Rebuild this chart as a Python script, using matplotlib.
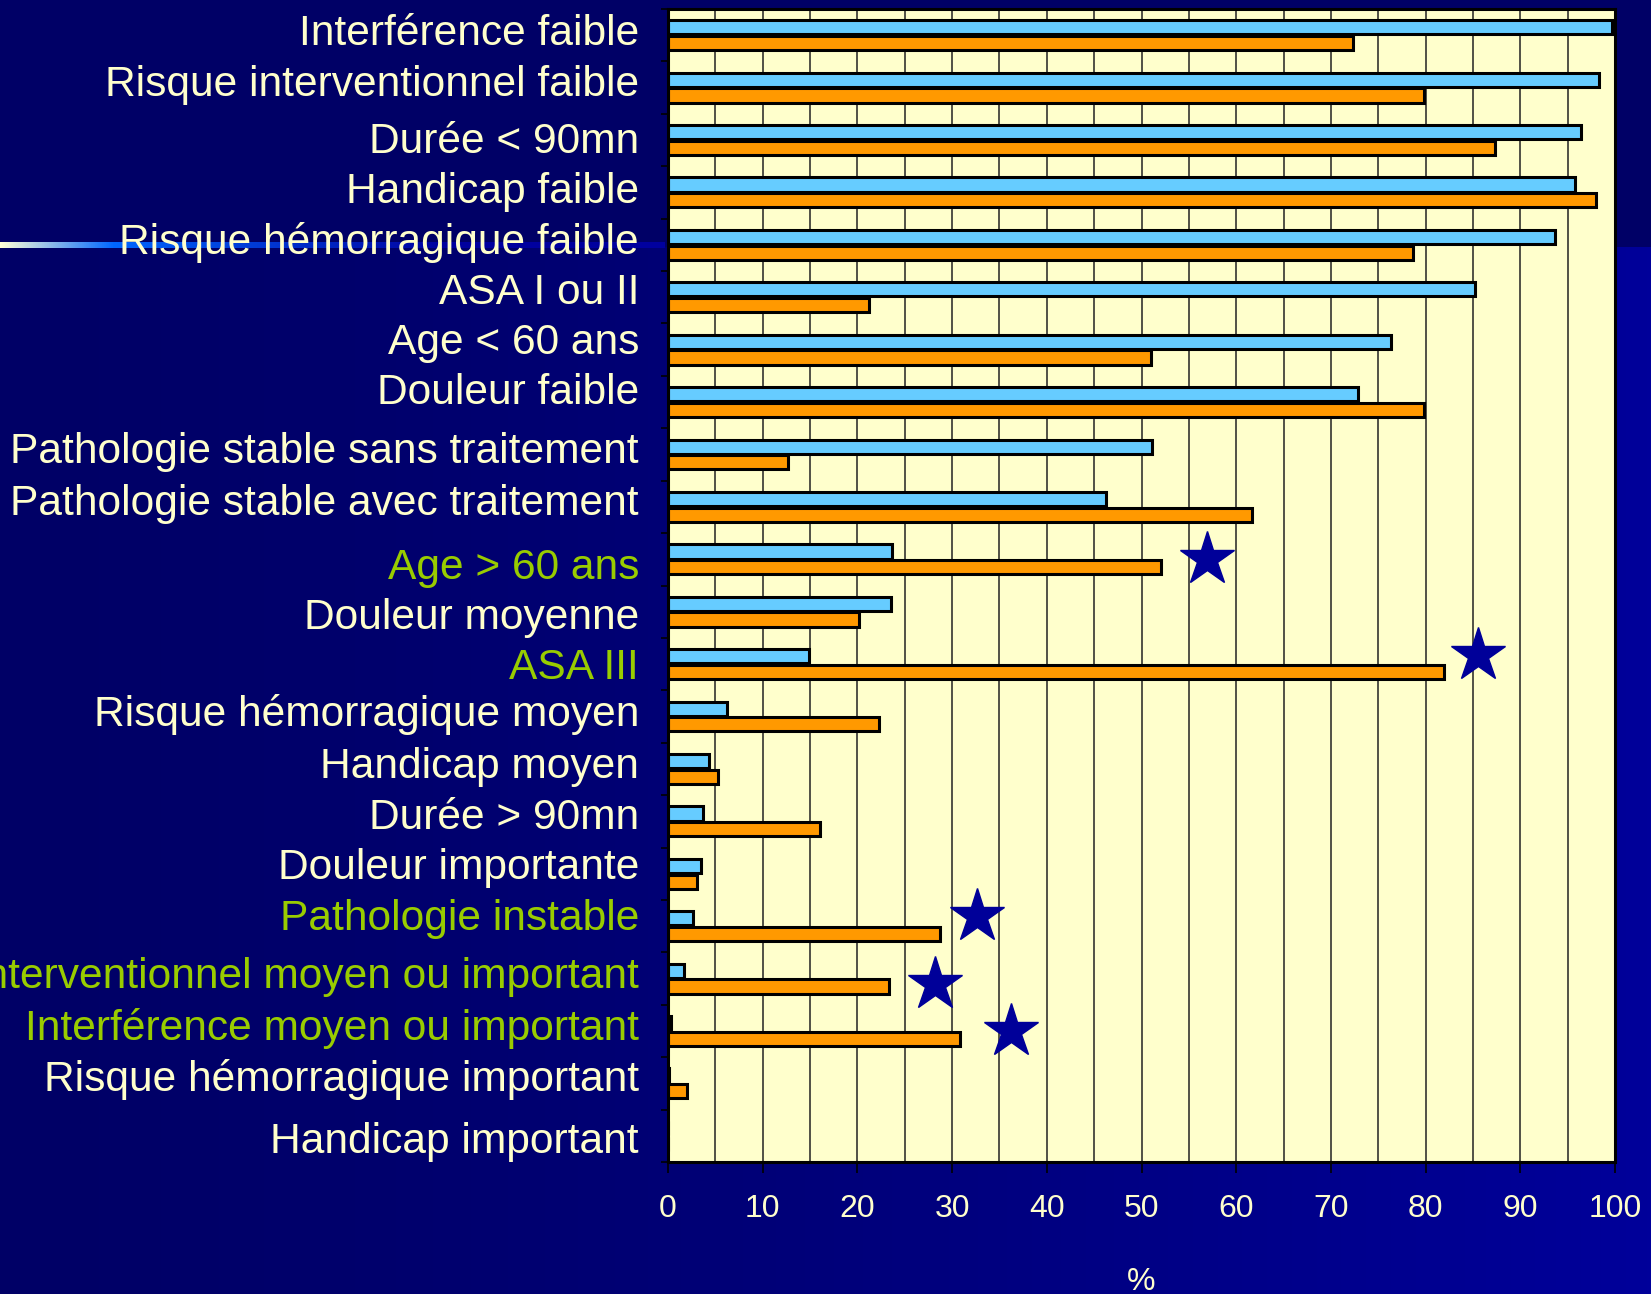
import numpy as np
import matplotlib.pyplot as plt
import matplotlib.ticker as mticker
from matplotlib.transforms import ScaledTranslation

categories = [
    "Interférence faible", "Risque interventionnel faible", "Durée < 90mn",
    "Handicap faible", "Risque hémorragique faible", "ASA I ou II",
    "Age < 60 ans", "Douleur faible", "Pathologie stable sans traitement",
    "Pathologie stable avec traitement", "Age > 60 ans", "Douleur moyenne",
    "ASA III", "Risque hémorragique moyen", "Handicap moyen", "Durée > 90mn",
    "Douleur importante", "Pathologie instable",
    "Risque interventionnel moyen ou important",
    "Interférence moyen ou important", "Risque hémorragique important",
    "Handicap important",
]
blue_vals = [99.7, 98.3, 96.4, 95.8, 93.7, 85.2, 76.3, 72.9, 51.1, 46.2, 23.7,
             23.5, 14.9, 6.2, 4.3, 3.7, 3.5, 2.6, 1.7, 0.3, 0.1, 0.0]
orange_vals = [72.3, 79.8, 87.3, 98.0, 78.7, 21.2, 51.0, 79.8, 12.7, 61.7, 52.1,
               20.2, 81.9, 22.3, 5.3, 16.0, 3.1, 28.7, 23.3, 30.8, 2.0, 0.0]
# highlighted (significant) rows
highlight = ["Age > 60 ans", "ASA III", "Pathologie instable",
             "Risque interventionnel moyen ou important",
             "Interférence moyen ou important"]
star_x = [56.9, 85.5, 32.6, 28.2, 36.2]
star_dy = [0.0, -0.17, -0.19, 0.1, 0.0]
xticks = list(range(0, 101, 10))
# small vertical nudges (px) of the row labels, as placed on the slide
label_dy = [6, 7, 3, 5, 7, 9, 11, 14, 7, 7, -4, -2, 1, 7, 6, 8, 10, 12, 6, 7, 8, -2]

W, H = 1651, 1294
fig = plt.figure(figsize=(W / 100, H / 100), dpi=100)
fig.patch.set_facecolor('#000066')
plt.rcParams['font.family'] = ['Liberation Sans', 'DejaVu Sans']

# slide background: blue band in lower part + highlight line
bg = fig.add_axes([0, 0, 1, 1], zorder=-10)
bg.set_xlim(0, W)
bg.set_ylim(H, 0)
bg.axis('off')
t = np.linspace(0, 1, 400) ** 1.4
grad = np.zeros((2, 400, 3))
grad[:, :, 2] = (0x66 + (0x9A - 0x66) * t) / 255
bg.imshow(grad, extent=[0, W, H, 247], aspect='auto', zorder=0)
line_x = np.linspace(0, 1, 300)
line = np.zeros((1, 300, 3))
c0 = np.array([1.0, 1.0, 0.85])
c1 = np.array([0.0, 0.4, 1.0])
c2 = np.array([0.0, 0.0, 0.62])
for i, s in enumerate(line_x):
    if s < 0.17:
        line[0, i] = c0 + (c1 - c0) * (s / 0.17)
    else:
        line[0, i] = c1 + (c2 - c1) * min(1, (s - 0.17) / 0.5)
bg.imshow(line, extent=[0, 665, 248, 242], aspect='auto', zorder=1)

ax = fig.add_axes([668 / W, 1 - 1162 / H, 947 / W, 1153 / H])
ax.set_facecolor('#FFFFCC')

y = np.arange(len(categories))
h = 0.27
off = 0.15
ax.barh(y - off, blue_vals, height=h, color='#66CCFF', edgecolor='black',
        linewidth=2.2, zorder=3)
ax.barh(y + off, orange_vals, height=h, color='#FF9900', edgecolor='black',
        linewidth=2.2, zorder=3)

sy = [categories.index(c) + d for c, d in zip(highlight, star_dy)]
ax.plot(star_x, sy, linestyle='none', marker='*', markersize=41,
        color='#000099', markeredgecolor='#000099', zorder=4)

ax.set_xlim(0, 100)
ax.set_ylim(len(categories) - 0.5, -0.5)
ax.set_xticks(xticks)
ax.xaxis.set_minor_locator(mticker.MultipleLocator(5))
ax.grid(True, axis='x', which='both', color='#222222', linewidth=1.1, zorder=1)
ax.set_axisbelow(True)

# row labels drawn as texts so each can be nudged like on the slide
ax.set_yticks(y)
ax.set_yticklabels([])
ax.set_yticks(np.arange(len(categories) + 1) - 0.5, minor=True)
trans = ax.get_yaxis_transform()
for i, (cat, dy) in enumerate(zip(categories, label_dy)):
    col = '#99CC00' if cat in highlight else '#FFFFCC'
    tr = trans + ScaledTranslation(-29 / 100, dy / 100, fig.dpi_scale_trans)
    ax.text(0, i, cat, transform=tr, ha='right', va='center_baseline',
            fontsize=30.6, color=col, clip_on=False)

ax.tick_params(axis='y', which='major', length=0)
ax.tick_params(axis='y', which='minor', length=5, width=1.2, color='black')
ax.tick_params(axis='x', which='major', length=8, width=1.2, color='black',
               pad=15, labelsize=23, labelcolor='#FFFFCC')
ax.tick_params(axis='x', which='minor', length=0)

for sp in ax.spines.values():
    sp.set_color('black')
    sp.set_linewidth(2.2)
    sp.set_zorder(5)

ax.set_xlabel('%', color='#FFFFCC', fontsize=23, labelpad=31)

fig.savefig('out.png', dpi=100, facecolor=fig.get_facecolor())
